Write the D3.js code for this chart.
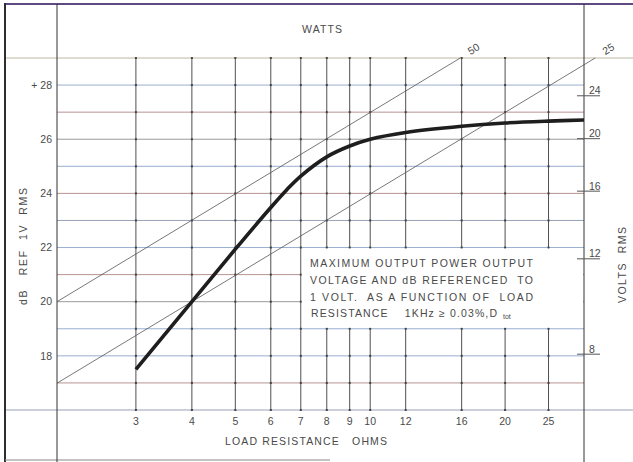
<!DOCTYPE html>
<html>
<head>
<meta charset="utf-8">
<script src="https://cdn.jsdelivr.net/npm/d3@7"></script>
<style>
  html, body { margin: 0; padding: 0; background: #fff; }
  svg { display: block; font-family: "Liberation Sans", Arial, sans-serif; }
  text { fill: #4a4a4a; white-space: pre; }
</style>
</head>
<body>
<svg id="chart" width="633" height="462"></svg>
<script>
// Load resistance grid (ohms) and dB grid
const ohmTicks = [3, 4, 5, 6, 7, 8, 9, 10, 12, 16, 20, 25];
const dbGrid = [16, 17, 18, 19, 20, 21, 22, 23, 24, 25, 26, 27, 28, 29];
const dbLabels = [18, 20, 22, 24, 26, 28];
const voltTicks = [8, 12, 16, 20, 24];
// Constant-power lines (watts)
const wattLines = [50, 25];
// Maximum output level vs load resistance
const curveOhms = [3, 4, 5, 6, 6.5, 7, 8, 9, 10, 12, 16, 20, 25, 30];
const curveDb = [17.5, 20.0, 21.94, 23.48, 24.12, 24.64, 25.35, 25.75, 26.0, 26.25, 26.48, 26.6, 26.67, 26.71];
const noteLines = [
  "MAXIMUM OUTPUT POWER OUTPUT",
  "VOLTAGE AND dB REFERENCED  TO",
  "1 VOLT.  AS A FUNCTION OF  LOAD"
];
const noteLast = "RESISTANCE    1KHz \u2265 0.03%,D";

const FS = 10.5;
const svg = d3.select("#chart");
const x = d3.scaleLog().domain([2, 30]).range([57, 584]);
const y = d3.scaleLinear().domain([16, 29]).range([410, 58]);
const [x0, x1] = x.range();
const [yb, yt] = y.range();

// horizontal grid tints
const red = "#b99292", blue = "#98afd0", grey = "#9a9a9a", slate = "#97a2b8";
const hColors = {16:slate,17:red,18:blue,19:blue,20:grey,21:red,
  22:blue,23:slate,24:red,25:blue,26:grey,27:red,28:blue,29:"#bdb9a2"};

const g = svg.append("g");

// horizontal grid
g.selectAll("line.h").data(dbGrid).join("line")
  .attr("x1", d => (d === 16 || d === 29) ? 5 : x0)
  .attr("x2", d => (d === 16 || d === 29) ? 633 : x1)
  .attr("y1", d => y(d)).attr("y2", d => y(d))
  .attr("stroke", d => hColors[d]).attr("stroke-width", 1);

// vertical grid
g.selectAll("line.v").data(ohmTicks).join("line")
  .attr("x1", d => x(d)).attr("x2", d => x(d))
  .attr("y1", yt).attr("y2", yb)
  .attr("stroke", "#3c3c3c").attr("stroke-width", 0.9);

// intersection marks
const pts = [];
ohmTicks.forEach(o => dbGrid.forEach(d => pts.push([o, d])));
g.selectAll("rect.dot").data(pts).join("rect")
  .attr("x", d => x(d[0]) - 1).attr("y", d => y(d[1]) - 1)
  .attr("width", 2).attr("height", 2).attr("fill", "#444");

// frame lines
g.append("line").attr("x1", 4).attr("x2", 633).attr("y1", 4).attr("y2", 4)
  .attr("stroke", "#5c4a80").attr("stroke-width", 2);
g.append("line").attr("x1", 5).attr("x2", 5).attr("y1", 3).attr("y2", 462)
  .attr("stroke", "#2e2e2e").attr("stroke-width", 2);
g.append("line").attr("x1", 5).attr("x2", 330).attr("y1", 460).attr("y2", 460)
  .attr("stroke", "#888").attr("stroke-width", 1);
g.append("line").attr("x1", x0).attr("x2", x0).attr("y1", 4).attr("y2", 462)
  .attr("stroke", "#333").attr("stroke-width", 1);
g.append("line").attr("x1", x1).attr("x2", x1).attr("y1", 4).attr("y2", 462)
  .attr("stroke", "#333").attr("stroke-width", 1);

// constant-power lines: dB = 10 log10(P * R)
const dbOf = (p, r) => 10 * Math.log10(p * r);
const ang = Math.atan2(y(16) - y(26), x(20) - x(2)) * 180 / Math.PI;
const rad = ang * Math.PI / 180;
wattLines.forEach(p => {
  const rEnd = Math.pow(10, 29 / 10) / p;
  g.append("line")
    .attr("x1", x(2)).attr("y1", y(dbOf(p, 2)))
    .attr("x2", x(rEnd)).attr("y2", y(29))
    .attr("stroke", "#555").attr("stroke-width", 0.8);
  const lx = x(rEnd) + 16 * Math.cos(rad), ly = y(29) - 16 * Math.sin(rad);
  g.append("text").attr("x", lx).attr("y", ly)
    .attr("text-anchor", "middle").attr("dominant-baseline", "middle")
    .attr("transform", `rotate(${-ang},${lx},${ly})`)
    .attr("font-size", FS).text(p);
});

// note box
g.append("rect").attr("x", x(7) + 1).attr("y", y(22) + 1)
  .attr("width", x1 - x(7) - 2).attr("height", y(19) - y(22) - 2).attr("fill", "#fff");
const noteY = [267, 284, 300.5, 316.5];
noteLines.forEach((t, i) => {
  g.append("text").attr("x", 310).attr("y", noteY[i]).attr("font-size", FS)
    .attr("textLength", 223).attr("lengthAdjust", "spacing").text(t);
});
g.append("text").attr("x", 311).attr("y", noteY[3]).attr("font-size", FS)
  .attr("textLength", 186).attr("lengthAdjust", "spacing").text(noteLast);
g.append("text").attr("x", 503).attr("y", noteY[3] + 2.5).attr("font-size", 7)
  .text("tot");

// output curve
const line = d3.line().x(d => x(d[0])).y(d => y(d[1])).curve(d3.curveCatmullRom.alpha(0.5));
g.append("path").datum(curveOhms.map((o, i) => [o, curveDb[i]]))
  .attr("d", line).attr("fill", "none").attr("stroke", "#1e1e1e")
  .attr("stroke-width", 3.6).attr("stroke-linecap", "butt");

// left dB labels
g.selectAll("text.db").data(dbLabels).join("text")
  .attr("x", 52).attr("y", d => y(d) + 3.8).attr("text-anchor", "end")
  .attr("font-size", FS).text(d => d === 28 ? "+ 28" : d);

// right volts ticks
const vy = v => y(20 * Math.log10(v));
g.selectAll("line.vt").data(voltTicks).join("line")
  .attr("x1", 577).attr("x2", 600).attr("y1", vy).attr("y2", vy)
  .attr("stroke", "#555").attr("stroke-width", 1);
g.selectAll("text.vt").data(voltTicks).join("text")
  .attr("x", 589).attr("y", d => vy(d) - 1.5).attr("font-size", FS).text(d => d);

// bottom ohm labels
g.selectAll("text.ohm").data(ohmTicks).join("text")
  .attr("x", d => x(d)).attr("y", 424.5).attr("text-anchor", "middle")
  .attr("font-size", FS).text(d => d);

// axis titles
g.append("text").attr("x", 225).attr("y", 445).attr("font-size", FS)
  .attr("textLength", 162).attr("lengthAdjust", "spacing").text("LOAD RESISTANCE   OHMS");
g.append("text").attr("x", 302).attr("y", 33).attr("font-size", FS)
  .attr("textLength", 40).attr("lengthAdjust", "spacing").text("WATTS");
g.append("text").attr("transform", "translate(27,305) rotate(-90)").attr("font-size", FS)
  .attr("textLength", 117).attr("lengthAdjust", "spacing").text("dB   REF  1V  RMS");
g.append("text").attr("transform", "translate(626,303) rotate(-90)").attr("font-size", FS)
  .attr("textLength", 76).attr("lengthAdjust", "spacing").text("VOLTS  RMS");
</script>
</body>
</html>
